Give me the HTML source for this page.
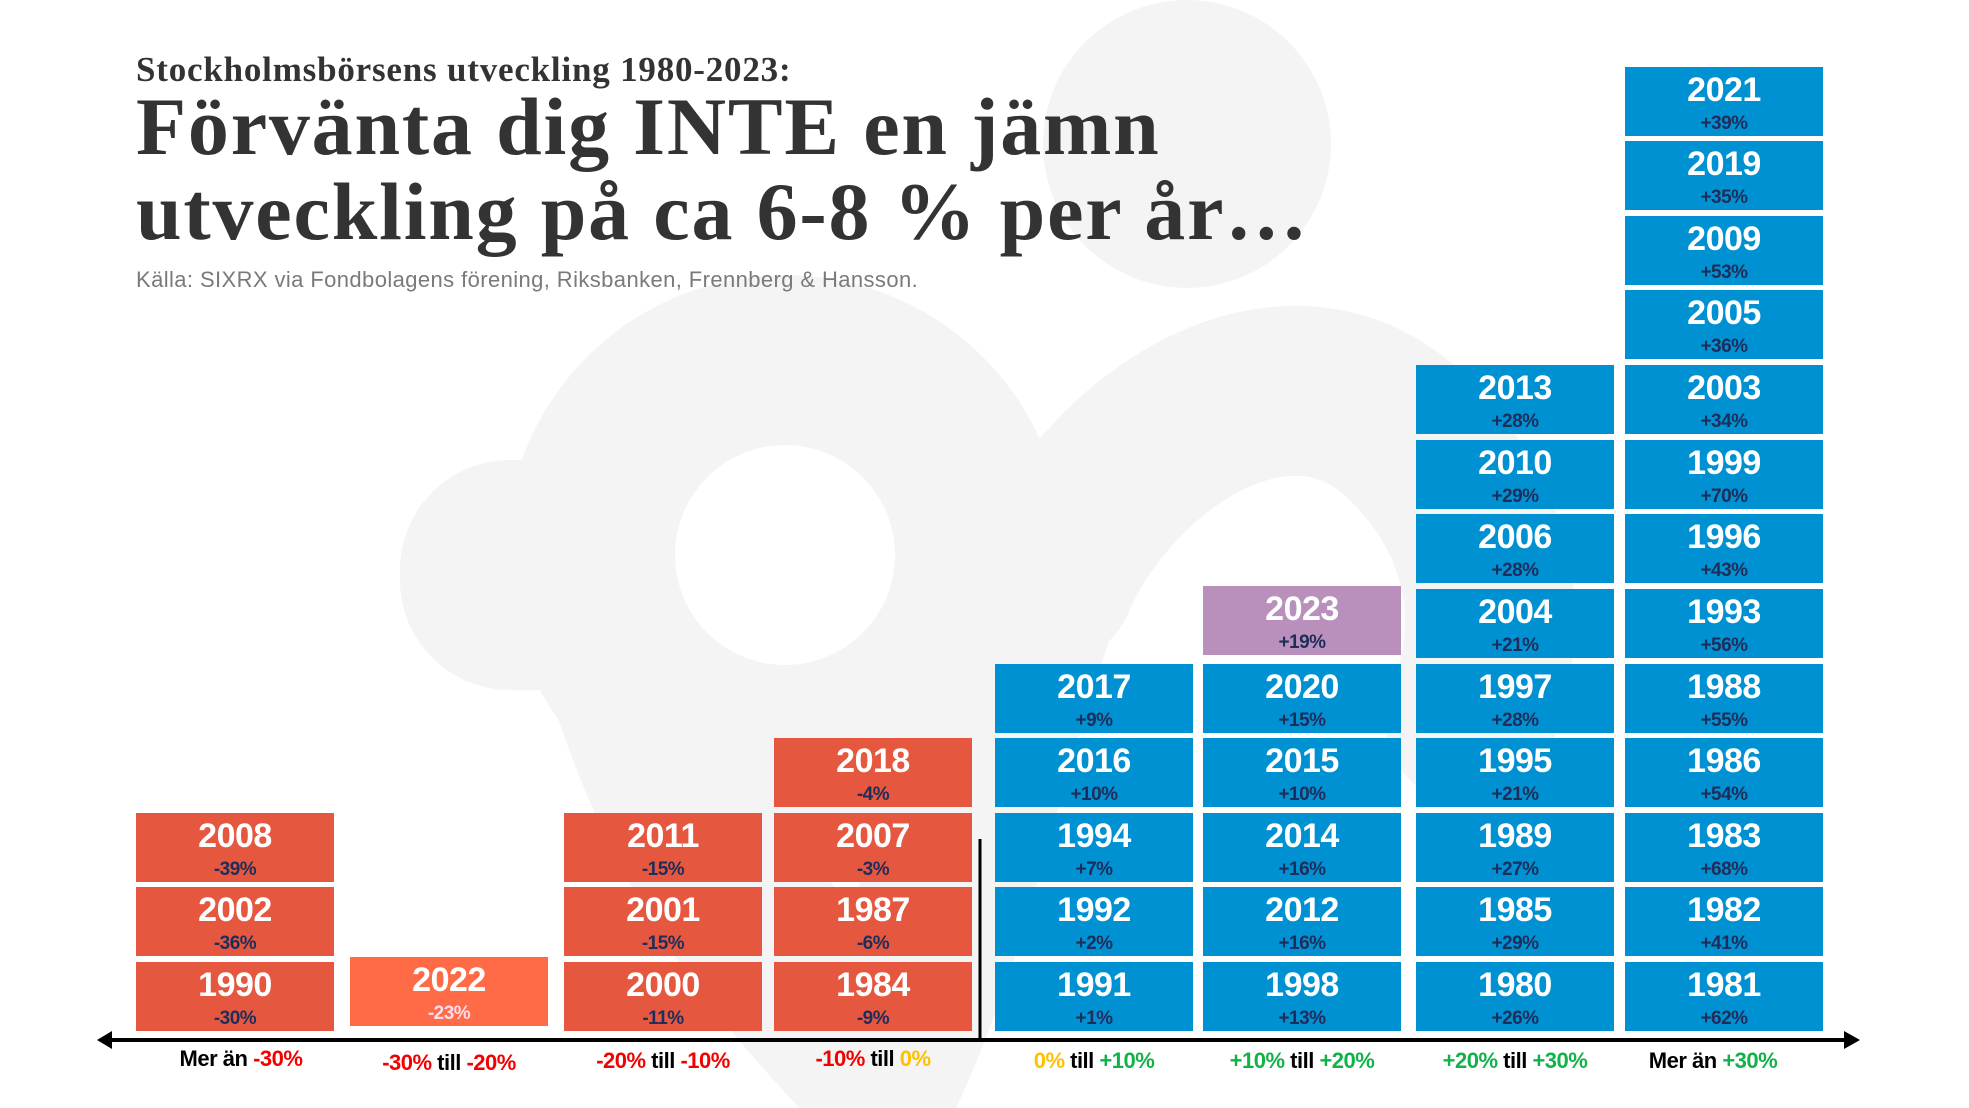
<!DOCTYPE html>
<html><head><meta charset="utf-8"><style>
html,body{margin:0;padding:0;background:#fff}
#c{position:relative;width:1969px;height:1108px;overflow:hidden;background:#fff;font-family:"Liberation Sans",sans-serif}
.b{position:absolute;width:198px;height:69px;color:#fff;text-align:center}
.b .y{position:absolute;left:0;right:0;top:4px;font-size:34px;font-weight:bold;line-height:38px;letter-spacing:-0.5px}
.b .p{position:absolute;left:0;right:0;top:48px;font-size:19px;font-weight:bold;line-height:18px;color:#1f2d5a;letter-spacing:-0.5px}
.r{background:#e5573f}.u{background:#0091d3}.v{background:#b890bb}.o{background:#ff6a47}
.l{position:absolute;top:1046px;width:240px;text-align:center;font-size:22px;font-weight:bold;color:#000;letter-spacing:-0.5px}
.rd{color:#f40000}.gr{color:#13b14a}.yl{color:#ffc000}
</style></head><body><div id="c">
<svg width="1969" height="1108" style="position:absolute;left:0;top:0">
<g fill="none" stroke="#f4f4f4" stroke-width="170" stroke-linecap="round">
<circle cx="785" cy="555" r="195"/>
<path d="M 1050 580 C 1110 440 1290 320 1410 440 C 1490 520 1510 620 1470 720"/>
<path d="M 1040 580 C 970 780 950 920 880 1070"/>
<path d="M 635 680 C 695 870 795 980 880 1070"/>
</g>
<rect x="400" y="460" width="260" height="230" rx="110" fill="#f4f4f4"/>
<circle cx="1187" cy="144" r="144" fill="#f4f4f4"/>
<line x1="108" y1="1040" x2="1846" y2="1040" stroke="#000" stroke-width="4"/>
<polygon points="97,1040 112,1031 112,1049" fill="#000"/>
<polygon points="1860,1040 1844,1031 1844,1049" fill="#000"/>
<line x1="980" y1="839" x2="980" y2="1038" stroke="#000" stroke-width="3"/>
</svg>
<div style="position:absolute;left:136px;top:50px;font-family:'Liberation Serif',serif;font-weight:bold;font-size:35px;color:#333;letter-spacing:0.8px">Stockholmsbörsens utveckling 1980-2023:</div>
<div style="position:absolute;left:136px;top:84px;font-family:'Liberation Serif',serif;font-weight:bold;font-size:82px;line-height:85px;color:#333;letter-spacing:1.8px">Förvänta dig INTE en jämn<br>utveckling på ca 6-8 % per år…</div>
<div style="position:absolute;left:136px;top:267px;font-size:22px;color:#7a7a7a;letter-spacing:0.4px">Källa: SIXRX via Fondbolagens förening, Riksbanken, Frennberg &amp; Hansson.</div>

<div class="b r" style="left:136px;top:962px"><div class="y">1990</div><div class="p">-30%</div></div>
<div class="b r" style="left:136px;top:887px"><div class="y">2002</div><div class="p">-36%</div></div>
<div class="b r" style="left:136px;top:813px"><div class="y">2008</div><div class="p">-39%</div></div>

<div class="b o" style="left:350px;top:957px"><div class="y">2022</div><div class="p" style="color:#fde">-23%</div></div>

<div class="b r" style="left:564px;top:962px"><div class="y">2000</div><div class="p">-11%</div></div>
<div class="b r" style="left:564px;top:887px"><div class="y">2001</div><div class="p">-15%</div></div>
<div class="b r" style="left:564px;top:813px"><div class="y">2011</div><div class="p">-15%</div></div>

<div class="b r" style="left:774px;top:962px"><div class="y">1984</div><div class="p">-9%</div></div>
<div class="b r" style="left:774px;top:887px"><div class="y">1987</div><div class="p">-6%</div></div>
<div class="b r" style="left:774px;top:813px"><div class="y">2007</div><div class="p">-3%</div></div>
<div class="b r" style="left:774px;top:738px"><div class="y">2018</div><div class="p">-4%</div></div>

<div class="b u" style="left:995px;top:962px"><div class="y">1991</div><div class="p">+1%</div></div>
<div class="b u" style="left:995px;top:887px"><div class="y">1992</div><div class="p">+2%</div></div>
<div class="b u" style="left:995px;top:813px"><div class="y">1994</div><div class="p">+7%</div></div>
<div class="b u" style="left:995px;top:738px"><div class="y">2016</div><div class="p">+10%</div></div>
<div class="b u" style="left:995px;top:664px"><div class="y">2017</div><div class="p">+9%</div></div>

<div class="b u" style="left:1203px;top:962px"><div class="y">1998</div><div class="p">+13%</div></div>
<div class="b u" style="left:1203px;top:887px"><div class="y">2012</div><div class="p">+16%</div></div>
<div class="b u" style="left:1203px;top:813px"><div class="y">2014</div><div class="p">+16%</div></div>
<div class="b u" style="left:1203px;top:738px"><div class="y">2015</div><div class="p">+10%</div></div>
<div class="b u" style="left:1203px;top:664px"><div class="y">2020</div><div class="p">+15%</div></div>
<div class="b v" style="left:1203px;top:586px"><div class="y">2023</div><div class="p">+19%</div></div>

<div class="b u" style="left:1416px;top:962px"><div class="y">1980</div><div class="p">+26%</div></div>
<div class="b u" style="left:1416px;top:887px"><div class="y">1985</div><div class="p">+29%</div></div>
<div class="b u" style="left:1416px;top:813px"><div class="y">1989</div><div class="p">+27%</div></div>
<div class="b u" style="left:1416px;top:738px"><div class="y">1995</div><div class="p">+21%</div></div>
<div class="b u" style="left:1416px;top:664px"><div class="y">1997</div><div class="p">+28%</div></div>
<div class="b u" style="left:1416px;top:589px"><div class="y">2004</div><div class="p">+21%</div></div>
<div class="b u" style="left:1416px;top:514px"><div class="y">2006</div><div class="p">+28%</div></div>
<div class="b u" style="left:1416px;top:440px"><div class="y">2010</div><div class="p">+29%</div></div>
<div class="b u" style="left:1416px;top:365px"><div class="y">2013</div><div class="p">+28%</div></div>

<div class="b u" style="left:1625px;top:962px"><div class="y">1981</div><div class="p">+62%</div></div>
<div class="b u" style="left:1625px;top:887px"><div class="y">1982</div><div class="p">+41%</div></div>
<div class="b u" style="left:1625px;top:813px"><div class="y">1983</div><div class="p">+68%</div></div>
<div class="b u" style="left:1625px;top:738px"><div class="y">1986</div><div class="p">+54%</div></div>
<div class="b u" style="left:1625px;top:664px"><div class="y">1988</div><div class="p">+55%</div></div>
<div class="b u" style="left:1625px;top:589px"><div class="y">1993</div><div class="p">+56%</div></div>
<div class="b u" style="left:1625px;top:514px"><div class="y">1996</div><div class="p">+43%</div></div>
<div class="b u" style="left:1625px;top:440px"><div class="y">1999</div><div class="p">+70%</div></div>
<div class="b u" style="left:1625px;top:365px"><div class="y">2003</div><div class="p">+34%</div></div>
<div class="b u" style="left:1625px;top:290px"><div class="y">2005</div><div class="p">+36%</div></div>
<div class="b u" style="left:1625px;top:216px"><div class="y">2009</div><div class="p">+53%</div></div>
<div class="b u" style="left:1625px;top:141px"><div class="y">2019</div><div class="p">+35%</div></div>
<div class="b u" style="left:1625px;top:67px"><div class="y">2021</div><div class="p">+39%</div></div>

<div class="l" style="left:121px">Mer än <span class="rd">-30%</span></div>
<div class="l" style="left:329px;top:1050px"><span class="rd">-30%</span> till <span class="rd">-20%</span></div>
<div class="l" style="left:543px;top:1048px"><span class="rd">-20%</span> till <span class="rd">-10%</span></div>
<div class="l" style="left:753px"><span class="rd">-10%</span> till <span class="yl">0%</span></div>
<div class="l" style="left:974px;top:1048px"><span class="yl">0%</span> till <span class="gr">+10%</span></div>
<div class="l" style="left:1182px;top:1048px"><span class="gr">+10%</span> till <span class="gr">+20%</span></div>
<div class="l" style="left:1395px;top:1048px"><span class="gr">+20%</span> till <span class="gr">+30%</span></div>
<div class="l" style="left:1593px;top:1048px">Mer än <span class="gr">+30%</span></div>
</div></body></html>
